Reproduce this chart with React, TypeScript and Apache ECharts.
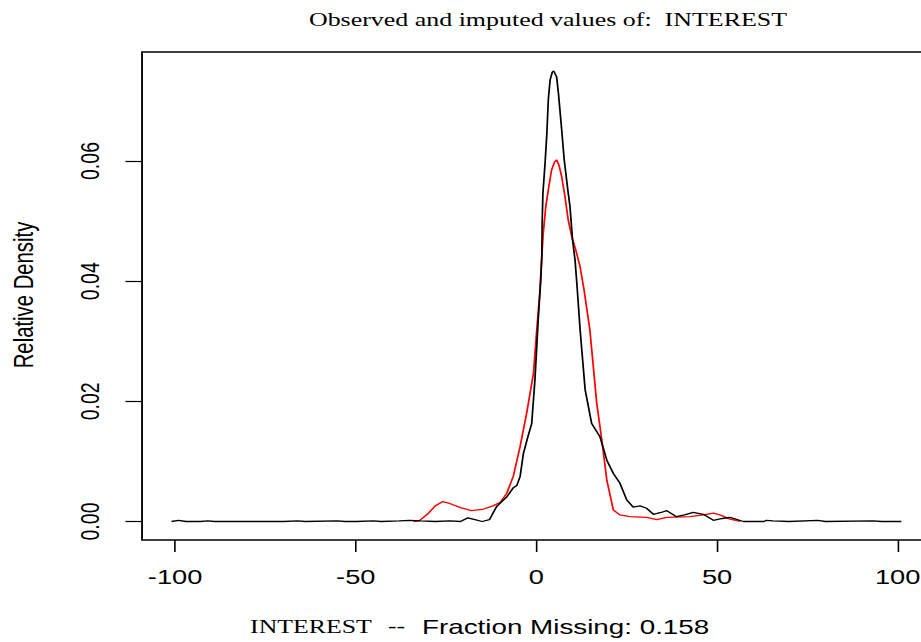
import React, { useEffect, useRef } from "react";
import * as echarts from "echarts";

// ---- data ----
const xTicks = [-100, -50, 0, 50, 100];
const yTicks = [0, 0.02, 0.04, 0.06];

const observed: [number, number][] = [
  [-101, 0], [-99, 0.0002], [-97, 0], [-93, 0], [-91, 0.0001], [-89, 0], [-70, 0], [-66, 0.0001],
  [-64, 0], [-55, 0.0001], [-53, 0], [-50, 0], [-45, 0.0001], [-43, 0], [-38, 0.0001], [-35, 0.0002],
  [-32, 0.0001], [-28, 0], [-24, 0.0001], [-21, 0], [-19, 0.0006], [-17, 0.0003], [-15, 0], [-13, 0.0003],
  [-11, 0.0025], [-8.2, 0.0041], [-6.4, 0.0056], [-5.4, 0.006], [-4.5, 0.0075], [-3.6, 0.0113],
  [-2.4, 0.014], [-1.3, 0.0163], [-0.4, 0.0236], [0.5, 0.0335], [1.2, 0.0402], [1.5, 0.0441],
  [1.6, 0.0496], [1.8, 0.0546], [2.4, 0.0596], [2.9, 0.0646], [3.3, 0.0702], [3.8, 0.0735],
  [4.4, 0.0748], [4.8, 0.075], [5.2, 0.0745], [5.6, 0.074], [6.1, 0.0713], [7.0, 0.0652],
  [7.7, 0.0602], [8.7, 0.0552], [9.3, 0.0524], [10, 0.0469], [10.7, 0.0435], [11.2, 0.0396],
  [12.1, 0.0319], [13.5, 0.0219], [15.3, 0.0163], [17.6, 0.0141], [19.5, 0.0102], [21.3, 0.008],
  [23.1, 0.0064], [25, 0.0036], [26.8, 0.0024], [28.7, 0.0026], [30.5, 0.0022], [32.4, 0.0012],
  [34.5, 0.0015], [36.1, 0.0018], [38.8, 0.0008], [41, 0.0011], [43.4, 0.0015], [46.2, 0.0012],
  [49, 0.0002], [51.5, 0.0005], [53.6, 0.0007], [57.3, 0], [63, 0], [63.6, 0.0002], [65.5, 0.0001],
  [70, 0], [77.9, 0.0002], [80, 0], [93.2, 0.0001], [95.6, 0], [101, 0],
];

const imputed: [number, number][] = [
  [-34, 0], [-32.5, 0.0001], [-30, 0.0013], [-28, 0.0026], [-26, 0.0033], [-24, 0.003], [-21, 0.0023],
  [-18, 0.0018], [-15, 0.002], [-12, 0.0026], [-10, 0.0032], [-8.2, 0.0047], [-6.4, 0.0075],
  [-4.5, 0.0125], [-2.7, 0.018], [-0.8, 0.0247], [0.1, 0.0319], [1.0, 0.0385], [1.5, 0.0441],
  [1.9, 0.048], [2.6, 0.0524], [3.3, 0.0552], [4.2, 0.0585], [5.0, 0.0598], [5.6, 0.0602],
  [6.3, 0.0592], [7.0, 0.0574], [7.9, 0.0541], [8.8, 0.0502], [9.8, 0.0474], [10.9, 0.0452],
  [12.1, 0.0424], [13.2, 0.0385], [14.8, 0.0319], [16.7, 0.0197], [18.1, 0.0136], [19.5, 0.0069],
  [21.3, 0.0019], [23.1, 0.0011], [25.9, 0.0008], [30.5, 0.0007], [33.3, 0.0003], [36.1, 0.0007],
  [42.5, 0.0008], [46.2, 0.0011], [49, 0.0014], [50.8, 0.0011], [53.6, 0.0004], [56.4, 0],
];

const titleText = "Observed and imputed values of:  INTEREST";
const yTitle = "Relative Density";
const xTitleVar = "INTEREST";
const xTitleSep = "--";
const xTitleRest = "Fraction Missing: 0.158";

const SX = 1.33; // horizontal stretch of the reference picture

export default function App() {
  const ref = useRef<HTMLDivElement>(null);

  useEffect(() => {
    if (!ref.current) return;
    const chart = echarts.init(ref.current, undefined, { renderer: "svg" });
    const sans = "'Liberation Sans', Arial, sans-serif";
    const serif = "'Liberation Serif', 'Times New Roman', serif";
    chart.setOption({
      animation: false,
      backgroundColor: "#ffffff",
      grid: {
        show: true,
        left: 106.8,
        top: 52,
        width: 593,
        height: 488,
        borderColor: "#000000",
        borderWidth: 1.4,
        backgroundColor: "transparent",
      },
      xAxis: {
        type: "value",
        position: "bottom",
        min: -109.15,
        max: 109.15,
        axisLine: { show: false, onZero: false },
        splitLine: { show: false },
        axisTick: {
          show: true,
          inside: false,
          length: 12,
          customValues: xTicks,
          lineStyle: { color: "#000000", width: 1.2 },
        },
        axisLabel: {
          customValues: xTicks,
          margin: 26,
          color: "#000000",
          fontFamily: sans,
          fontSize: 20.5,
          formatter: (v: number) => String(v),
        },
      },
      yAxis: {
        type: "value",
        position: "left",
        min: -0.00308,
        max: 0.07814,
        axisLine: { show: false, onZero: false },
        splitLine: { show: false },
        axisTick: {
          show: true,
          inside: false,
          length: 12.5,
          customValues: yTicks,
          lineStyle: { color: "#000000", width: 1.2 },
        },
        axisLabel: {
          customValues: yTicks,
          rotate: 90,
          margin: 29,
          color: "#000000",
          fontFamily: sans,
          fontSize: 19.5,
          formatter: (v: number) => v.toFixed(2),
        },
      },
      series: [
        {
          type: "line",
          data: imputed,
          showSymbol: false,
          symbol: "none",
          lineStyle: { color: "#ff0000", width: 1.3 },
          z: 2,
        },
        {
          type: "line",
          data: observed,
          showSymbol: false,
          symbol: "none",
          lineStyle: { color: "#000000", width: 1.3 },
          z: 3,
        },
      ],
      graphic: [
        {
          type: "text",
          x: 412,
          y: 20,
          style: {
            text: titleText,
            fill: "#000000",
            font: `19.5px ${serif}`,
            align: "center",
            verticalAlign: "middle",
          },
        },
        {
          type: "text",
          x: 17.3,
          y: 295,
          rotation: Math.PI / 2,
          style: {
            text: yTitle,
            fill: "#000000",
            font: `20.3px ${sans}`,
            align: "center",
            verticalAlign: "middle",
          },
        },
        {
          type: "text",
          x: 188,
          y: 627,
          style: {
            text: xTitleVar,
            fill: "#000000",
            font: `19.4px ${serif}`,
            align: "left",
            verticalAlign: "middle",
          },
        },
        {
          type: "text",
          x: 291.7,
          y: 626,
          style: {
            text: xTitleSep,
            fill: "#000000",
            font: `19.4px ${serif}`,
            align: "left",
            verticalAlign: "middle",
          },
        },
        {
          type: "text",
          x: 317.3,
          y: 627,
          style: {
            text: xTitleRest,
            fill: "#000000",
            font: `20.9px ${sans}`,
            align: "left",
            verticalAlign: "middle",
          },
        },
      ],
    });
    return () => chart.dispose();
  }, []);

  return (
    <div
      style={{
        position: "fixed",
        left: 0,
        top: 0,
        width: 921,
        height: 642,
        overflow: "hidden",
        background: "#ffffff",
      }}
    >
      <div
        ref={ref}
        style={{
          width: 710,
          height: 642,
          transform: `scaleX(${SX})`,
          transformOrigin: "0 0",
        }}
      />
    </div>
  );
}
